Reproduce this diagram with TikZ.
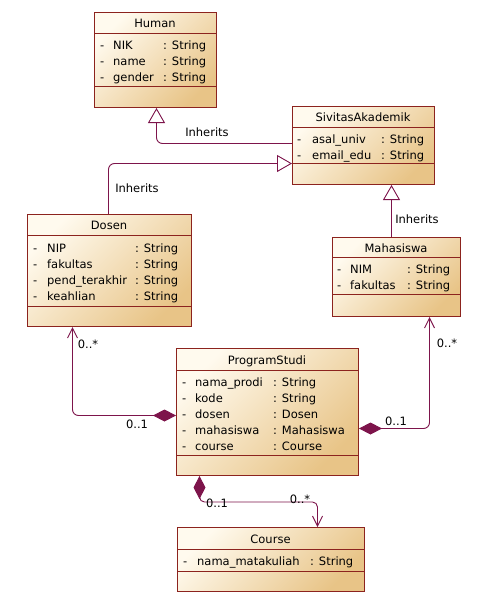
\documentclass[tikz,border=0pt]{standalone}
\usepackage{fontspec}
\setmainfont{DejaVu Sans}
\usepackage{tikz}
\usetikzlibrary{arrows.meta}

\definecolor{umlLight}{RGB}{255,250,238}
\definecolor{umlDark}{RGB}{232,196,135}
\definecolor{umlBorder}{RGB}{140,35,30}
\definecolor{umlLine}{RGB}{125,20,75}

\begin{document}
\begin{tikzpicture}[
    x=1pt, y=-1pt,
    every node/.style={font=\fontsize{11.5}{16}\selectfont},
    classbox/.style={rectangle, draw=umlBorder, line width=1pt, top color=umlLight,
                     bottom color=umlDark, shading angle=45, anchor=north west, inner sep=0pt},
    classname/.style={inner sep=0pt, text height=8.5pt, text depth=0pt},
    attrs/.style={anchor=north west, inner sep=0pt},
    sepline/.style={draw=umlBorder, line width=1pt},
    inherit/.style={draw=umlLine, line width=0.9pt, rounded corners=6pt,
                    -{Triangle[open, length=15pt, width=17pt, fill=white]}},
    assoc/.style={draw=umlLine, line width=0.9pt, rounded corners=6pt,
                  {Diamond[length=23pt, width=12pt]}-{Straight Barb[length=10pt, width=10pt]}},
    rolelabel/.style={inner sep=0pt, text height=8.5pt, text depth=0pt}
]
    \useasboundingbox (0,0) rectangle (486,603);

    % Human
    \node[classbox, minimum width=122pt, minimum height=95pt] (human) at (94,12) {};
    \draw[sepline] ([yshift=-21pt]human.north west) -- ([yshift=-21pt]human.north east);
    \draw[sepline] ([yshift=-74pt]human.north west) -- ([yshift=-74pt]human.north east);
    \node[classname] (humantitle) at (155,23.5) {Human};
    \node[attrs] (humanattr) at (100,38) {\begin{tabular}{@{}p{13pt}@{}p{50pt}@{}l@{}}
        - & NIK & : String\\ - & name & : String\\ - & gender & : String\end{tabular}};

    % SivitasAkademik
    \node[classbox, minimum width=142pt, minimum height=78pt] (sivitas) at (292,106) {};
    \draw[sepline] ([yshift=-21pt]sivitas.north west) -- ([yshift=-21pt]sivitas.north east);
    \draw[sepline] ([yshift=-57pt]sivitas.north west) -- ([yshift=-57pt]sivitas.north east);
    \node[classname] (sivitastitle) at (363,117.5) {SivitasAkademik};
    \node[attrs] (sivitasattr) at (297,132) {\begin{tabular}{@{}p{15pt}@{}p{69pt}@{}l@{}}
        - & asal\_univ & : String\\ - & email\_edu & : String\end{tabular}};

    % Dosen
    \node[classbox, minimum width=164pt, minimum height=112pt] (dosen) at (27,214) {};
    \draw[sepline] ([yshift=-21pt]dosen.north west) -- ([yshift=-21pt]dosen.north east);
    \draw[sepline] ([yshift=-92pt]dosen.north west) -- ([yshift=-92pt]dosen.north east);
    \node[classname] (dosentitle) at (109,225.5) {Dosen};
    \node[attrs] (dosenattr) at (33,241) {\begin{tabular}{@{}p{14pt}@{}p{88pt}@{}l@{}}
        - & NIP & : String\\ - & fakultas & : String\\ - & pend\_terakhir & : String\\
        - & keahlian & : String\end{tabular}};

    % Mahasiswa
    \node[classbox, minimum width=128pt, minimum height=79pt] (mahasiswa) at (332,237) {};
    \draw[sepline] ([yshift=-20pt]mahasiswa.north west) -- ([yshift=-20pt]mahasiswa.north east);
    \draw[sepline] ([yshift=-57pt]mahasiswa.north west) -- ([yshift=-57pt]mahasiswa.north east);
    \node[classname] (mahasiswatitle) at (396,248) {Mahasiswa};
    \node[attrs] (mahasiswaattr) at (337,262) {\begin{tabular}{@{}p{13pt}@{}p{57pt}@{}l@{}}
        - & NIM & : String\\ - & fakultas & : String\end{tabular}};

    % ProgramStudi
    \node[classbox, minimum width=182pt, minimum height=127pt] (prodi) at (176,348) {};
    \draw[sepline] ([yshift=-22pt]prodi.north west) -- ([yshift=-22pt]prodi.north east);
    \draw[sepline] ([yshift=-107pt]prodi.north west) -- ([yshift=-107pt]prodi.north east);
    \node[classname] (proditile) at (267,360) {ProgramStudi};
    \node[attrs] (prodiattr) at (182,375) {\begin{tabular}{@{}p{13pt}@{}p{78pt}@{}l@{}}
        - & nama\_prodi & : String\\ - & kode & : String\\ - & dosen & : Dosen\\
        - & mahasiswa & : Mahasiswa\\ - & course & : Course\end{tabular}};

    % Course
    \node[classbox, minimum width=187pt, minimum height=64pt] (course) at (177,527) {};
    \draw[sepline] ([yshift=-22pt]course.north west) -- ([yshift=-22pt]course.north east);
    \draw[sepline] ([yshift=-44pt]course.north west) -- ([yshift=-44pt]course.north east);
    \node[classname] (coursetitle) at (270.5,539) {Course};
    \node[attrs] (courseattr) at (183,554) {\begin{tabular}{@{}p{14pt}@{}p{113pt}@{}l@{}}
        - & nama\_matakuliah & : String\end{tabular}};

    % Inheritance
    \draw[inherit] ([yshift=2pt]sivitas.west) -| ([xshift=1pt]human.south);
    \draw[inherit] ([xshift=-1pt]dosen.north) |- ([yshift=-18pt]sivitas.west);
    \draw[inherit] ([xshift=-5pt]mahasiswa.north) -- ([xshift=-5pt]mahasiswa.north |- sivitas.south);
    \node[rolelabel] (inh1) at (207,132) {Inherits};
    \node[rolelabel] (inh2) at (137,188) {Inherits};
    \node[rolelabel] (inh3) at (417,219) {Inherits};

    % Associations
    \draw[assoc] ([yshift=-3.5pt]prodi.west) -| ([xshift=-37pt]dosen.south);
    \node[rolelabel] (dosenone) at (137,424) {0..1};
    \node[rolelabel] (dosenmany) at (88,344) {0..*};

    \draw[assoc] ([yshift=-16.5pt]prodi.east) -| ([xshift=33pt]mahasiswa.south);
    \node[rolelabel] (mhsone) at (396,421) {0..1};
    \node[rolelabel] (mhsmany) at (447,343) {0..*};

    \draw[assoc, rounded corners=5pt] ([xshift=-68pt]prodi.south)
        |- ([xshift=46.5pt, yshift=25pt]course.north) -- ([xshift=46.5pt]course.north);
    \node[rolelabel] (courseone) at (217,503) {0..1};
    \node[rolelabel] (coursemany) at (300,499) {0..*};

\end{tikzpicture}
\end{document}
